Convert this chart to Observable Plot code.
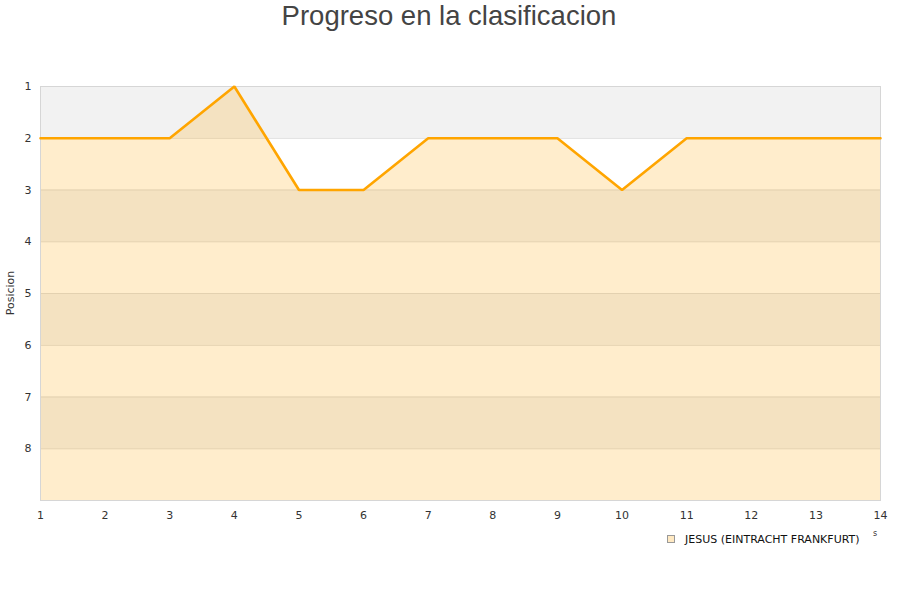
<!DOCTYPE html>
<html><head><meta charset="utf-8">
<script src="https://cdn.jsdelivr.net/npm/d3@7"></script>
<script src="https://cdn.jsdelivr.net/npm/@observablehq/plot@0.6"></script>
<style>body{margin:0;background:#fff}</style>
</head><body><div id="chart"></div>
<script>
const jornadas = [1,2,3,4,5,6,7,8,9,10,11,12,13,14];
const posiciones = [2,2,2,1,3,3,2,2,2,3,2,2,2,2];
const yTicks = [1,2,3,4,5,6,7,8];
const serieName = "JESUS (EINTRACHT FRANKFURT)";
const title = "Progreso en la clasificacion";
const yLabel = "Posicion";

const data = jornadas.map((j,i)=>({j, p: posiciones[i]}));
const bands = [1,2,3,4,5,6,7,8].map(b=>({y1:b, y2:b+1, gray: b%2===1}));

const plot = Plot.plot({
  width: 900, height: 600,
  marginTop: 86, marginLeft: 40, marginRight: 20, marginBottom: 100,
  style: {fontFamily: "DejaVu Sans", fontSize: "11px", color: "#333", background: "#fff"},
  x: {domain: [1,14], ticks: jornadas, tickSize: 0, tickPadding: 11, label: null, tickFormat: d=>String(d)},
  y: {domain: [1,9], reverse: true, ticks: yTicks, tickSize: 0, tickPadding: 9, label: null},
  marks: [
    Plot.rect(bands, {x1: 1, x2: 14, y1: "y1", y2: "y2", fill: d=>d.gray ? "#f2f2f2" : "#ffffff"}),
    Plot.ruleY([2,3,4,5,6,7,8], {stroke: "#dcdcdc", strokeWidth: 1}),
    Plot.areaY(data, {x: "j", y1: ()=>9, y2: "p", fill: "#ffa500", fillOpacity: 0.2}),
    Plot.frame({stroke: "#d6d6d6"}),
    Plot.line(data, {x: "j", y: "p", stroke: "#ffa500", strokeWidth: 2.6, strokeLinejoin: "miter"})
  ]
});
document.getElementById("chart").appendChild(plot);
const svg = d3.select(plot);
svg.append("text").attr("x", 449).attr("y", 25).attr("text-anchor","middle")
  .attr("font-family","Liberation Sans, Arial, sans-serif").attr("font-size", 27.5).attr("fill","#444").text(title);
svg.append("text").attr("transform","translate(14,293) rotate(-90)").attr("text-anchor","middle")
  .attr("font-family","DejaVu Sans").attr("font-size", 11).attr("fill","#333").text(yLabel);
svg.append("rect").attr("x",667.5).attr("y",535.5).attr("width",7).attr("height",7)
  .attr("fill","#ffe9c2").attr("stroke","#999").attr("stroke-width",1);
svg.append("text").attr("x",685).attr("y",543).attr("text-anchor","start")
  .attr("font-family","DejaVu Sans").attr("font-size", 11).attr("fill","#111").text(serieName);
svg.append("text").attr("x",873).attr("y",536).attr("text-anchor","start")
  .attr("font-family","DejaVu Sans").attr("font-size", 8).attr("fill","#333").text("s");
</script></body></html>
